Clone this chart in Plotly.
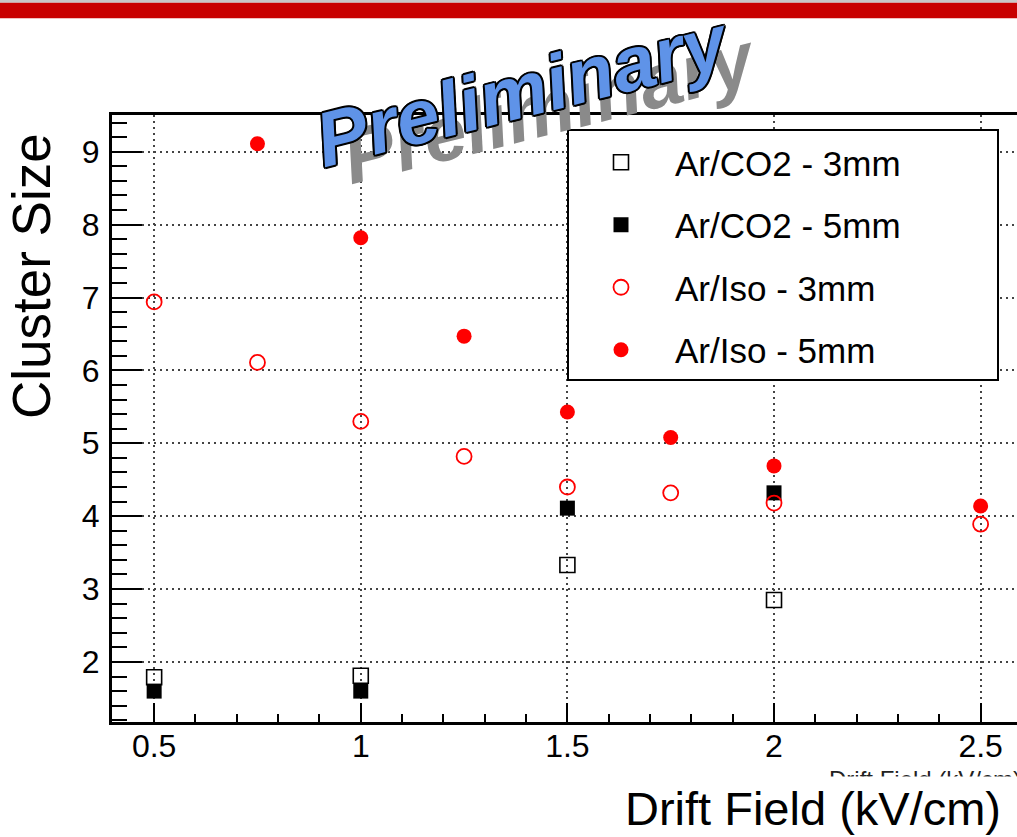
import plotly.graph_objects as go

FONT = "Liberation Sans, Arial, Helvetica, sans-serif"

# Data
x_co2_3 = [0.5, 1.0, 1.5, 2.0]
y_co2_3 = [1.79, 1.81, 3.33, 2.85]
x_co2_5 = [0.5, 1.0, 1.5, 2.0]
y_co2_5 = [1.60, 1.60, 4.11, 4.32]
x_iso_3 = [0.5, 0.75, 1.0, 1.25, 1.5, 1.75, 2.0, 2.5]
y_iso_3 = [6.94, 6.11, 5.30, 4.82, 4.40, 4.32, 4.18, 3.89]
x_iso_5 = [0.75, 1.0, 1.25, 1.5, 1.75, 2.0, 2.5]
y_iso_5 = [9.11, 7.82, 6.47, 5.43, 5.08, 4.69, 4.14]

names = ["Ar/CO2 - 3mm", "Ar/CO2 - 5mm", "Ar/Iso - 3mm", "Ar/Iso - 5mm"]

W, H = 1017, 837
L, R, T, B = 112, 0, 115, 115
PW = W - L - R
PH = H - T - B


def px(xp):
    return (xp - L) / PW


def py(yp):
    return (H - B - yp) / PH


fig = go.Figure()
fig.add_trace(go.Scatter(x=x_co2_3, y=y_co2_3, mode="markers", name=names[0], legendgroup="a",
                         marker=dict(symbol="square-open", size=15, color="black", line=dict(width=1.6))))
fig.add_trace(go.Scatter(x=x_co2_5, y=y_co2_5, mode="markers", name=names[1], legendgroup="b",
                         marker=dict(symbol="square", size=15, color="black")))
fig.add_trace(go.Scatter(x=x_iso_3, y=y_iso_3, mode="markers", name=names[2], legendgroup="c",
                         marker=dict(symbol="circle-open", size=15, color="#ff0000", line=dict(width=1.8))))
fig.add_trace(go.Scatter(x=x_iso_5, y=y_iso_5, mode="markers", name=names[3], legendgroup="d",
                         marker=dict(symbol="circle", size=15, color="#ff0000")))

grid_dash = "2px,4px"

fig.update_xaxes(
    range=[0.398, 2.588], tick0=0.5, dtick=0.5,
    ticks="inside", ticklen=19, tickwidth=2, tickcolor="black",
    minor=dict(ticks="inside", ticklen=8, tickwidth=2, tickcolor="black", dtick=0.1, showgrid=False),
    showgrid=True, gridcolor="#444444", gridwidth=1.5, griddash=grid_dash,
    showline=True, linecolor="black", linewidth=3, mirror=True,
    zeroline=False,
    tickfont=dict(family=FONT, size=32, color="black"),
    ticklabelstandoff=-6,
)
fig.update_yaxes(
    range=[1.176, 9.504], tick0=1, dtick=1,
    ticks="inside", ticklen=30, tickwidth=2, tickcolor="black",
    minor=dict(ticks="inside", ticklen=15, tickwidth=2, tickcolor="black", dtick=0.2, showgrid=False),
    showgrid=True, gridcolor="#444444", gridwidth=1.5, griddash=grid_dash,
    showline=True, linecolor="black", linewidth=3, mirror=False,
    zeroline=False,
    tickfont=dict(family=FONT, size=32, color="black"),
    ticklabelstandoff=3,
)

shapes = [
    # top banner
    dict(type="rect", xref="paper", yref="paper", x0=-0.2, x1=1.1, y0=py(2.7), y1=py(0),
         fillcolor="#c8c8c8", line=dict(width=0), layer="above"),
    dict(type="rect", xref="paper", yref="paper", x0=-0.2, x1=1.1, y0=py(18.3), y1=py(2.7),
         fillcolor="#c80000", line=dict(width=0), layer="above"),
    # legend box
    dict(type="rect", xref="paper", yref="paper", x0=px(568), x1=px(998), y0=py(380), y1=py(130),
         fillcolor="white", line=dict(color="black", width=2), layer="above"),
]

outline = ",".join(f"{dx}px {dy}px 0 #000" for dx, dy in
                   [(-2, 0), (2, 0), (0, -2), (0, 2), (-1.5, -1.5), (1.5, -1.5), (-1.5, 1.5), (1.5, 1.5)])

annotations = [
    # y title
    dict(text="Cluster Size", xref="paper", yref="paper", x=px(31), y=py(276), showarrow=False,
         textangle=-90, font=dict(family=FONT, size=53, color="black"), xanchor="center", yanchor="middle"),
    # small original axis title (mostly hidden)
    dict(text="Drift Field (kV/cm)", xref="paper", yref="paper", x=px(827), y=py(779), showarrow=False,
         font=dict(family=FONT, size=24, color="#222222"), xanchor="left", yanchor="middle"),
    # x title
    dict(text="Drift Field (kV/cm)", xref="paper", yref="paper", x=px(813), y=py(776), showarrow=False,
         font=dict(family=FONT, size=47, color="black"), xanchor="center", yanchor="top",
         height=61, width=420, valign="middle", bgcolor="white"),
    # watermark shadow
    dict(text="Preliminary", xref="paper", yref="paper", x=px(550), y=py(107), showarrow=False,
         textangle=-14, font=dict(family=FONT, size=77, color="#8a8a8a", weight="bold", style="italic"),
         xanchor="center", yanchor="middle"),
    # watermark
    dict(text="Preliminary", xref="paper", yref="paper", x=px(523), y=py(90), showarrow=False,
         textangle=-14, font=dict(family=FONT, size=77, color="#5f93e8", weight="bold", style="italic",
                                  shadow=outline),
         xanchor="center", yanchor="middle"),
]

fig.update_layout(
    width=W, height=H,
    margin=dict(l=L, r=R, t=T, b=B, pad=0),
    paper_bgcolor="white", plot_bgcolor="white",
    showlegend=True,
    legend=dict(x=px(567), y=py(133), xanchor="left", yanchor="top",
                bgcolor="rgba(0,0,0,0)", borderwidth=0,
                font=dict(family=FONT, size=35, color="black"),
                itemwidth=98, tracegroupgap=14, itemsizing="trace"),
    shapes=shapes,
    annotations=annotations,
)

fig.write_html("out.html")
